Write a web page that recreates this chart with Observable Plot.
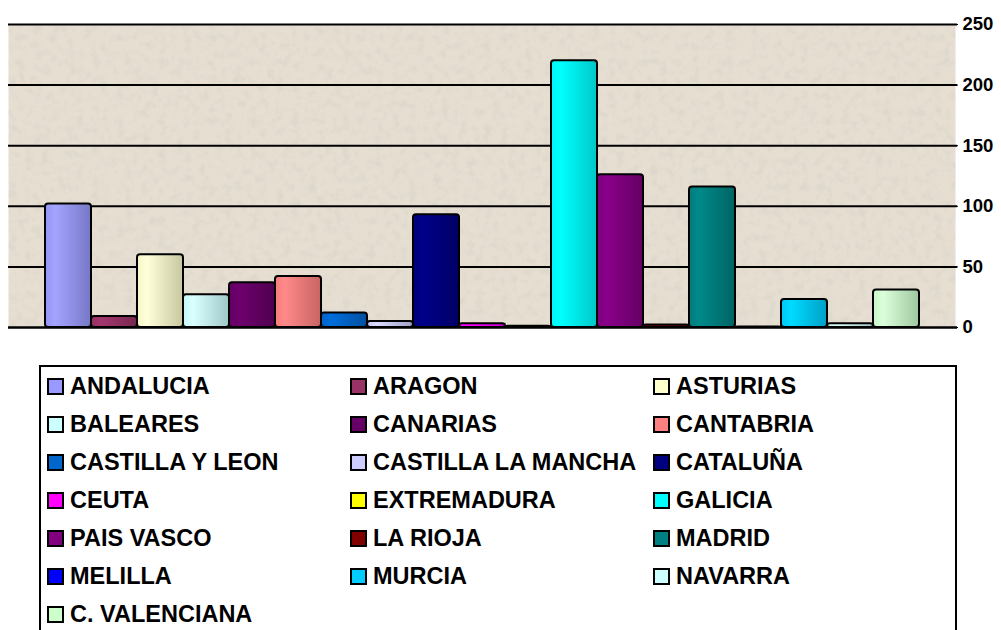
<!DOCTYPE html>
<html>
<head>
<meta charset="utf-8">
<script src="https://cdn.jsdelivr.net/npm/d3@7"></script>
<script src="https://cdn.jsdelivr.net/npm/@observablehq/plot@0.6"></script>
<style>
  html, body { margin: 0; padding: 0; background: #fff; width: 1001px; height: 630px; overflow: hidden; }
  #chart svg { display: block; }
  #legend {
    position: absolute; left: 39px; top: 365px; width: 908px; height: 300px;
    border: 2px solid #000; box-sizing: content-box;
    display: grid; grid-template-columns: 303px 303px 302px; grid-auto-rows: 38px;
    padding-left: 6px;
    font-family: Arial, "Liberation Sans", sans-serif; font-weight: bold; font-size: 23.5px; color: #000;
  }
  .item { display: flex; align-items: center; white-space: nowrap; }
  .sw { width: 13px; height: 13px; border: 2px solid #000; margin-right: 6px; flex: none; }
</style>
</head>
<body>
<div id="chart"></div>
<div id="legend"></div>
<script>
const regions = ["ANDALUCIA","ARAGON","ASTURIAS","BALEARES","CANARIAS","CANTABRIA","CASTILLA Y LEON","CASTILLA LA MANCHA","CATALUÑA","CEUTA","EXTREMADURA","GALICIA","PAIS VASCO","LA RIOJA","MADRID","MELILLA","MURCIA","NAVARRA","C. VALENCIANA"];
const values = [102, 9, 60, 27, 37, 42, 12, 5, 93, 3, 1, 220, 126, 2, 116, 0.5, 23, 3, 31];
const colors = ["#9999FF","#993366","#FFFFCC","#CCFFFF","#660066","#FF8080","#0066CC","#CCCCFF","#000080","#FF00FF","#FFFF00","#00FFFF","#800080","#800000","#008080","#0000FF","#00CCFF","#CCFFFF","#CCFFCC"];
const yTicks = [0, 50, 100, 150, 200, 250];

const data = regions.map((r, i) => ({region: r, value: values[i], grad: `url(#g${i})`}));

const svg = Plot.plot({
  width: 1001,
  height: 345,
  marginTop: 24,
  marginBottom: 18,
  marginLeft: 8,
  marginRight: 46,
  style: {fontFamily: "Arial, 'Liberation Sans', sans-serif", fontSize: "18.5px", fontWeight: "bold", color: "#000", background: "transparent"},
  x: {domain: regions, paddingInner: 0, paddingOuter: 0.75, axis: null},
  y: {domain: [0, 250], ticks: yTicks, axis: "right", tickSize: 2, tickPadding: 5, label: null, tickFormat: d => String(d)},
  color: {type: "identity"},
  marks: [
    Plot.frame({fill: "#E5DED1", stroke: "none"}),
    Plot.ruleY(yTicks, {stroke: "#000", strokeWidth: 2, insetRight: -2}),
    Plot.barY(data, {x: "region", y: "value", fill: "grad", stroke: "#000", strokeWidth: 2, rx: 3}),
    Plot.ruleY([0], {stroke: "#000", strokeWidth: 2, insetRight: -2})
  ]
});

// gradients & texture
const defs = d3.select(svg).insert("defs", ":first-child");
colors.forEach((c, i) => {
  const base = d3.color(c);
  const g = defs.append("linearGradient").attr("id", `g${i}`).attr("x1", "0").attr("x2", "1").attr("y1", "0").attr("y2", "0");
  g.append("stop").attr("offset", "0%").attr("stop-color", base.darker(0.1).formatHex());
  g.append("stop").attr("offset", "22%").attr("stop-color", base.brighter(0.2).formatHex());
  g.append("stop").attr("offset", "100%").attr("stop-color", base.darker(0.7).formatHex());
});
const f = defs.append("filter").attr("id", "tex").attr("x", 0).attr("y", 0).attr("width", "100%").attr("height", "100%");
f.append("feTurbulence").attr("type", "fractalNoise").attr("baseFrequency", "0.12").attr("numOctaves", 3).attr("seed", 4).attr("result", "n");
f.append("feColorMatrix").attr("in", "n").attr("type", "matrix")
  .attr("values", "0 0 0 0 0.62  0 0 0 0 0.58  0 0 0 0 0.52  0.9 0 0 0 -0.42").attr("result", "spots");
f.append("feComposite").attr("in", "spots").attr("in2", "SourceGraphic").attr("operator", "in").attr("result", "cl");
const m = f.append("feMerge");
m.append("feMergeNode").attr("in", "SourceGraphic");
m.append("feMergeNode").attr("in", "cl");
d3.select(svg).select("[aria-label=frame]").attr("filter", "url(#tex)");

document.getElementById("chart").appendChild(svg);

// legend
const legend = d3.select("#legend");
regions.forEach((r, i) => {
  const it = legend.append("div").attr("class", "item");
  it.append("div").attr("class", "sw").style("background", colors[i]);
  it.append("span").text(r);
});
</script>
</body>
</html>
